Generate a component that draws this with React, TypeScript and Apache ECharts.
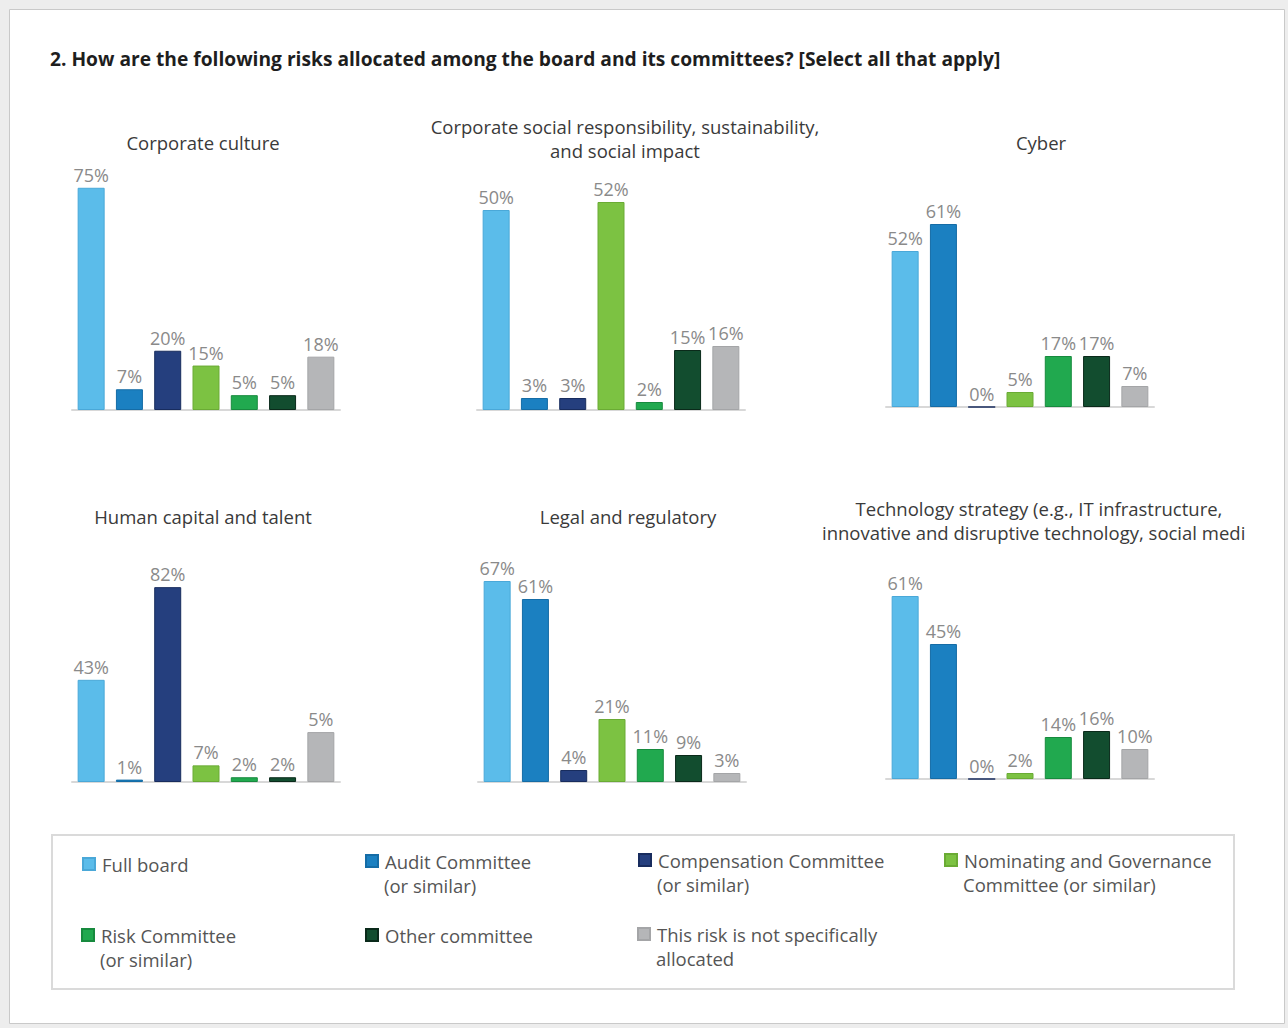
import React, { useEffect, useRef } from "react";
import * as echarts from "echarts";

const committees = [
  "Full board",
  "Audit Committee\n(or similar)",
  "Compensation Committee\n(or similar)",
  "Nominating and Governance\nCommittee (or similar)",
  "Risk Committee\n(or similar)",
  "Other committee",
  "This risk is not specifically\nallocated",
];
const colors = ["#5bbcea", "#1b80c1", "#253f7e", "#7cc242", "#21a94f", "#124d2f", "#b5b6b8"];
const borders = ["#4aa8d8", "#156ca6", "#182c5e", "#6aab34", "#178a3e", "#0a2a1a", "#a4a5a7"];

const panelTitles = [
  "Corporate culture",
  "Corporate social responsibility, sustainability,\nand social impact",
  "Cyber",
  "Human capital and talent",
  "Legal and regulatory",
  "Technology strategy (e.g., IT infrastructure,",
];
const techTitleLine2 = "innovative and disruptive technology, social media)";

const cultureValues = [75, 7, 20, 15, 5, 5, 18];
const csrValues = [50, 3, 3, 52, 2, 15, 16];
const cyberValues = [52, 61, 0, 5, 17, 17, 7];
const humanValues = [43, 1, 82, 7, 2, 2, 21];
const legalValues = [67, 61, 4, 21, 11, 9, 3];
const techValues = [61, 45, 0, 2, 14, 16, 10];

const cultureLabels = ["75%", "7%", "20%", "15%", "5%", "5%", "18%"];
const csrLabels = ["50%", "3%", "3%", "52%", "2%", "15%", "16%"];
const cyberLabels = ["52%", "61%", "0%", "5%", "17%", "17%", "7%"];
const humanLabels = ["43%", "1%", "82%", "7%", "2%", "2%", "5%"];
const legalLabels = ["67%", "61%", "4%", "21%", "11%", "9%", "3%"];
const techLabels = ["61%", "45%", "0%", "2%", "14%", "16%", "10%"];

const panelValues = [cultureValues, csrValues, cyberValues, humanValues, legalValues, techValues];
const panelLabels = [cultureLabels, csrLabels, cyberLabels, humanLabels, legalLabels, techLabels];
const panelMax = [81, 60, 80, 101, 80, 80];

// layout (pixels)
const gridLeft = [72, 477, 886, 72, 478, 886];
const gridBase = [410, 410, 407, 782, 782, 779];
const gridH = 240;
const gridW = 268;

const FONT = '"Open Sans", "Noto Sans", sans-serif';

export default function App() {
  const ref = useRef<HTMLDivElement>(null);
  useEffect(() => {
    const chart = echarts.init(ref.current!, undefined, { renderer: "svg" });

    const grids = gridLeft.map((l, i) => ({
      left: l,
      top: gridBase[i] - gridH,
      width: gridW,
      height: gridH,
      containLabel: false,
    }));
    const xAxes = gridLeft.map((_, i) => ({
      type: "category",
      gridIndex: i,
      data: committees,
      axisLabel: { show: false },
      axisTick: { show: false },
      axisLine: { show: true, lineStyle: { color: "#d8d8d8", width: 2 } },
    }));
    const yAxes = gridLeft.map((_, i) => ({
      type: "value",
      gridIndex: i,
      min: 0,
      max: panelMax[i],
      show: false,
      splitLine: { show: false },
    }));

    const series: any[] = [];
    panelValues.forEach((vals, p) => {
      committees.forEach((name, k) => {
        series.push({
          type: "bar",
          name,
          xAxisIndex: p,
          yAxisIndex: p,
          barWidth: 27,
          barGap: "-100%",
          itemStyle: { color: colors[k], borderColor: borders[k], borderWidth: 1 },
          label: {
            show: true,
            position: "top",
            distance: 4,
            formatter: panelLabels[p][k],
            color: "#8a8a8a",
            fontSize: 18,
            fontFamily: FONT,
          },
          data: vals.map((v, i) => (i === k ? v : "-")),
        });
      });
    });

    // icon left, icon centre y, y of second line (if any)
    const legendPos = [
      { left: 82, cy: 864 },
      { left: 365, cy: 861 },
      { left: 638, cy: 860 },
      { left: 944, cy: 860 },
      { left: 81, cy: 935 },
      { left: 365, cy: 935 },
      { left: 637, cy: 934 },
    ];
    const legends = committees.map((name, k) => ({
      data: [name],
      left: legendPos[k].left,
      top: legendPos[k].cy - 12,
      padding: 0,
      icon: "rect",
      itemWidth: 12,
      itemHeight: 12,
      selectedMode: false,
      formatter: (n: string) => n.split("\n")[0],
      textStyle: {
        fontSize: 18.5,
        fontFamily: FONT,
        color: "#555555",
        lineHeight: 24,
        padding: [0, 0, 0, 2],
      },
    }));
    const legendSecondLines = committees
      .map((name, k) => ({ k, line: name.split("\n")[1] }))
      .filter((d) => d.line)
      .map((d) => ({
        type: "text",
        x: legendPos[d.k].left + 19,
        y: legendPos[d.k].cy + 24,
        style: {
          text: d.line,
          fontSize: 18.5,
          fontFamily: FONT,
          fill: "#555555",
          align: "left",
          verticalAlign: "middle",
        },
      }));

    const titlePos = [
      { x: 203, y: 142 },
      { x: 625, y: 138 },
      { x: 1041, y: 142 },
      { x: 203, y: 516 },
      { x: 628, y: 516 },
      { x: 1039, y: 508 },
    ];

    const graphic: any[] = [
      {
        type: "rect",
        shape: { x: 9.5, y: 9.5, width: 1275, height: 1014 },
        style: { fill: "#ffffff", stroke: "#c9c9c9", lineWidth: 1 },
        z: -10,
      },
      {
        type: "rect",
        shape: { x: 52, y: 835, width: 1182, height: 154 },
        style: { fill: "none", stroke: "#dadada", lineWidth: 2 },
        z: -5,
      },
      {
        type: "text",
        x: 50,
        y: 58,
        style: {
          text: "2. How are the following risks allocated among the board and its committees? [Select all that apply]",
          fontSize: 19.2,
          fontWeight: "bold",
          fontFamily: FONT,
          fill: "#1e1e1e",
          align: "left",
          verticalAlign: "middle",
        },
      },
      ...panelTitles.map((t, i) => ({
        type: "text",
        x: titlePos[i].x,
        y: titlePos[i].y,
        style: {
          text: t,
          fontSize: 18.5,
          fontFamily: FONT,
          fill: "#3a3a3a",
          align: "center",
          verticalAlign: "middle",
          lineHeight: 24,
        },
      })),
      {
        type: "text",
        x: 822,
        y: 532,
        style: {
          text: techTitleLine2,
          fontSize: 18.5,
          fontFamily: FONT,
          fill: "#3a3a3a",
          align: "left",
          verticalAlign: "middle",
          width: 432,
          overflow: "truncate",
          ellipsis: "",
        },
      },
      ...legendSecondLines,
    ];

    chart.setOption({
      animation: false,
      backgroundColor: "#ededed",
      grid: grids,
      xAxis: xAxes,
      yAxis: yAxes,
      legend: legends,
      series,
      graphic,
    });
    return () => chart.dispose();
  }, []);
  return (
    <div
      ref={ref}
      style={{ position: "fixed", left: 0, top: 0, width: 1288, height: 1028 }}
    />
  );
}
